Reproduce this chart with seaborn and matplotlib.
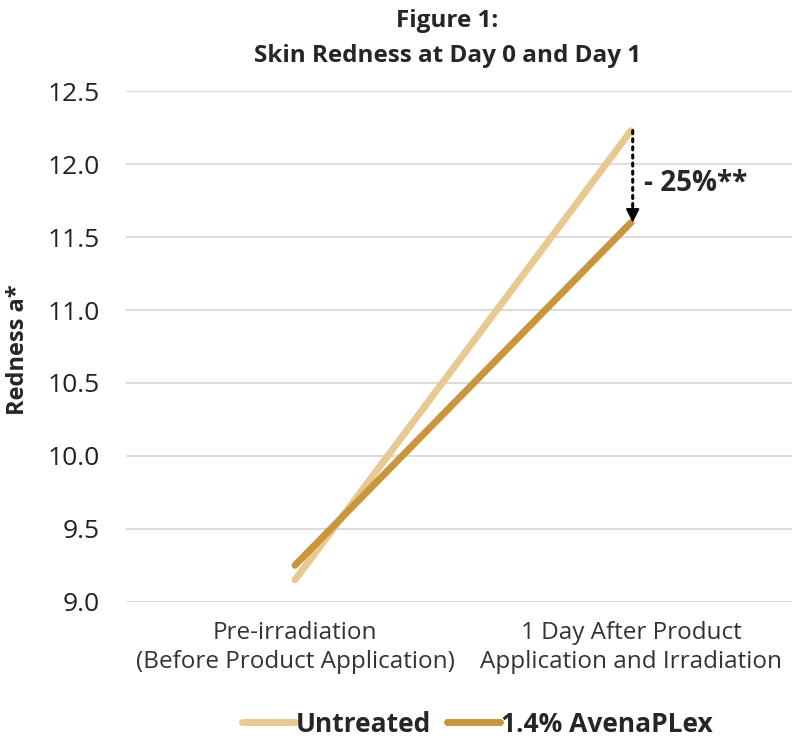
import pandas as pd
import matplotlib.pyplot as plt
import seaborn as sns

# values
timepoints = ['Pre-irradiation\n(Before Product Application)',
              '1 Day After Product\nApplication and Irradiation']
untreated = [9.15, 12.23]
avenaplex = [9.25, 11.60]
series_names = ['Untreated', '1.4% AvenaPLex']
y_ticks = [9.0, 9.5, 10.0, 10.5, 11.0, 11.5, 12.0, 12.5]

df = pd.DataFrame({
    'Timepoint': timepoints * 2,
    'Redness': untreated + avenaplex,
    'Group': [series_names[0]] * 2 + [series_names[1]] * 2,
})

sns.set_theme(style='white')
plt.rcParams['font.family'] = ['Open Sans', 'DejaVu Sans']

colors = {'Untreated': '#E8C992', '1.4% AvenaPLex': '#C8963C'}

fig = plt.figure(figsize=(7.92, 7.42), dpi=100)
ax = fig.add_axes([0.159, 0.189, 0.841, 0.688])

ax.yaxis.grid(True, color='#dcdcdc', linewidth=1.5)
ax.set_axisbelow(True)

sns.lineplot(data=df, x='Timepoint', y='Redness', hue='Group', palette=colors,
             linewidth=5, ax=ax, legend=False, solid_capstyle='round')

ax.set_ylim(9.0, 12.5)
ax.set_xlim(-0.503, 1.479)
ax.set_yticks(y_ticks)
ax.set_yticklabels([f'{v:.1f}' for v in y_ticks])
ax.tick_params(axis='y', labelsize=19, pad=19, colors='#222222', length=0)
ax.tick_params(axis='x', labelsize=17.5, pad=14, colors='#333333', length=0)
for lbl in ax.get_xticklabels():
    lbl.set_linespacing(1.25)
ax.set_xlabel('')
ax.set_ylabel('Redness a*', fontsize=17, fontweight='bold')
ax.yaxis.set_label_coords(-0.144, 0.493)
sns.despine(ax=ax, left=True, bottom=True, top=True, right=True)

# difference arrow (dotted shaft, solid head) and label
ax.annotate('', xy=(1.005, avenaplex[1] + 0.08), xytext=(1.005, untreated[1]),
            arrowprops=dict(arrowstyle='-', linestyle=':', color='black',
                            lw=2.2, shrinkA=0, shrinkB=0))
ax.annotate('', xy=(1.005, avenaplex[1]), xytext=(1.005, avenaplex[1] + 0.12),
            arrowprops=dict(arrowstyle='-|>', color='black', lw=1.5,
                            mutation_scale=20, shrinkA=0, shrinkB=0))
ax.text(1.04, 11.87, '- 25%**', fontsize=20, fontweight='bold', va='center', ha='left')

fig.text(0.565, 0.972, 'Figure 1:', fontsize=17.5, fontweight='bold', ha='center', va='center')
fig.text(0.565, 0.925, 'Skin Redness at Day 0 and Day 1', fontsize=17.5, fontweight='bold',
         ha='center', va='center')

handles = [plt.Line2D([], [], color=colors[n], linewidth=5) for n in series_names]
leg = fig.legend(handles, series_names, loc='center', bbox_to_anchor=(0.603, 0.024),
                 ncol=2, frameon=False, handlelength=2.0, handletextpad=0.05,
                 columnspacing=0.6, fontsize=19, borderpad=0.1)
for text in leg.get_texts():
    text.set_fontweight('bold')

fig.savefig('out.png', dpi=100)
